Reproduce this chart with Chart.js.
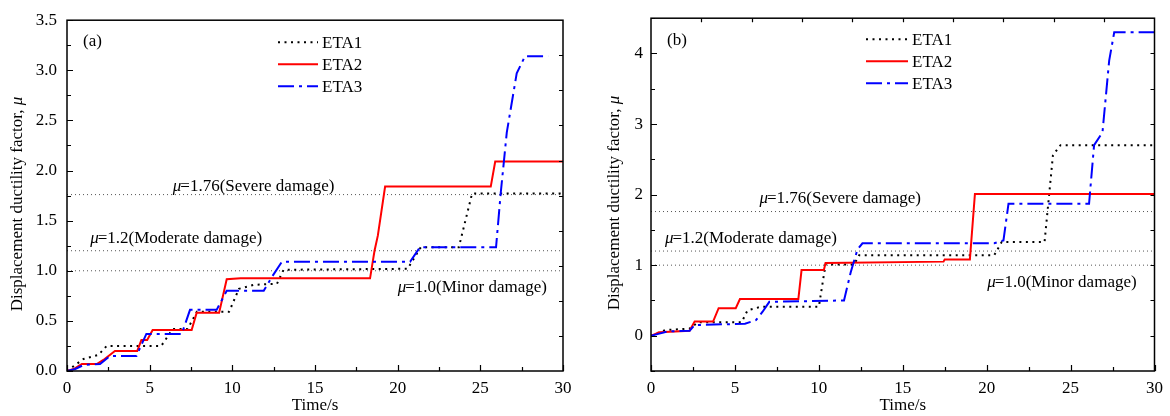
<!DOCTYPE html>
<html>
<head>
<meta charset="utf-8">
<script src="https://cdn.jsdelivr.net/npm/chart.js@4.4.1/dist/chart.umd.min.js"></script>
<style>
  html, body { margin: 0; padding: 0; background: #fff; }
  #wrap { position: relative; width: 1170px; height: 416px; }
  .panel { position: absolute; top: 0; width: 585px; height: 416px; }
</style>
</head>
<body>
<div id="wrap">
  <div class="panel" style="left:0"><canvas id="chartA"></canvas></div>
  <div class="panel" style="left:585px"><canvas id="chartB"></canvas></div>
</div>
<script>
// ---- data ----
const seriesNames = ['ETA1', 'ETA2', 'ETA3'];

// panel (a)
const a1Time = [0, 0.5, 1.0, 1.9, 2.4, 4.3, 5.7, 6.4, 7.3, 7.85, 9.8, 10.4, 11.3, 12.7, 13.1, 20.6, 21.4, 23.7, 24.5, 30];
const a1Mu   = [0, 0.06, 0.12, 0.16, 0.25, 0.25, 0.25, 0.42, 0.42, 0.59, 0.59, 0.82, 0.86, 0.87, 1.01, 1.02, 1.235, 1.235, 1.77, 1.77];
const a2Time = [0, 0.4, 0.9, 1.8, 2.2, 2.9, 4.25, 4.5, 4.85, 5.18, 7.54, 7.84, 9.2, 9.66, 10.5, 18.33, 18.6, 18.8, 19.24, 25.63, 25.9, 30];
const a2Mu   = [0, 0.02, 0.07, 0.07, 0.11, 0.2, 0.2, 0.31, 0.31, 0.41, 0.41, 0.58, 0.58, 0.915, 0.925, 0.925, 1.2, 1.35, 1.84, 1.84, 2.09, 2.09];
const a3Time = [0, 0.5, 1.0, 2.0, 2.6, 4.2, 4.8, 6.94, 7.44, 9.05, 9.66, 11.9, 12.4, 13.0, 20.75, 21.35, 25.95, 26.23, 26.6, 27.2, 27.7, 29.1];
const a3Mu   = [0, 0.02, 0.06, 0.07, 0.15, 0.15, 0.37, 0.37, 0.61, 0.61, 0.8, 0.8, 0.94, 1.09, 1.09, 1.235, 1.235, 1.77, 2.38, 2.97, 3.14, 3.14];

// panel (b)
const b1Time = [0, 0.4, 0.83, 2.3, 2.8, 5.4, 5.75, 6.55, 10.0, 10.4, 12.1, 12.4, 20.45, 20.9, 23.45, 23.95, 24.4, 30];
const b1Mu   = [0, 0.04, 0.08, 0.1, 0.19, 0.19, 0.36, 0.41, 0.41, 1.01, 1.01, 1.14, 1.14, 1.33, 1.33, 2.56, 2.7, 2.7];
const b2Time = [0, 0.5, 2.3, 2.6, 3.7, 4.03, 5.05, 5.3, 8.78, 8.97, 10.3, 10.4, 17.43, 17.5, 19.0, 19.3, 30];
const b2Mu   = [0, 0.05, 0.07, 0.2, 0.2, 0.39, 0.39, 0.52, 0.52, 0.93, 0.93, 1.03, 1.05, 1.08, 1.08, 2.01, 2.01];
const b3Time = [0, 0.5, 1.0, 2.3, 2.6, 5.6, 6.25, 6.65, 7.05, 11.5, 11.9, 12.3, 12.6, 20.45, 21.0, 21.3, 26.1, 26.4, 26.9, 27.3, 27.6, 30];
const b3Mu   = [0, 0.03, 0.06, 0.07, 0.15, 0.17, 0.22, 0.34, 0.48, 0.5, 0.9, 1.22, 1.31, 1.31, 1.35, 1.87, 1.87, 2.7, 2.88, 3.9, 4.3, 4.3];

// damage thresholds
const thresholds = [1.0, 1.2, 1.76];
const thresholdNames = ['Minor damage', 'Moderate damage', 'Severe damage'];

// axis ticks
const timeTicks = [0, 5, 10, 15, 20, 25, 30];
const muTicksA = [0, 0.5, 1.0, 1.5, 2.0, 2.5, 3.0, 3.5];
const muTicksB = [0, 1, 2, 3, 4];

const FONT = '"Liberation Serif", "Times New Roman", serif';
const styles = [
  { color: '#000000', width: 2, dash: [2, 4.5] },
  { color: '#ff0000', width: 2, dash: [] },
  { color: '#0000ff', width: 2, dash: [16, 5, 3, 5] }
];

const toPoints = (t, m) => t.map((v, i) => ({ x: v, y: m[i] }));

function buildDatasets(series) {
  const ds = series.map((s, i) => ({
    label: seriesNames[i],
    data: toPoints(s[0], s[1]),
    borderColor: styles[i].color,
    borderWidth: styles[i].width,
    borderDash: styles[i].dash,
    pointRadius: 0,
    tension: 0,
    fill: false,
    order: 3 - i
  }));
  thresholds.forEach(v => {
    ds.push({
      label: 'thr' + v,
      data: [{ x: 0, y: v }, { x: 30, y: v }],
      borderColor: '#555',
      borderWidth: 1,
      borderDash: [1, 3],
      pointRadius: 0,
      order: 10
    });
  });
  return ds;
}

// frame, inward ticks, y title, legend, annotations, panel tag
const decorPlugin = {
  id: 'decor',
  afterDraw(chart, args, o) {
    const { ctx, chartArea: a, scales: { x, y } } = chart;
    const yTicks = o.yTicks;
    ctx.save();
    ctx.strokeStyle = '#000';
    ctx.lineWidth = 1.5;
    ctx.strokeRect(a.left, a.top, a.right - a.left, a.bottom - a.top);

    ctx.lineWidth = 1.2;
    ctx.beginPath();
    // left + bottom, major and minor
    const yStep = yTicks[1] - yTicks[0];
    for (let v = y.min; v <= y.max + 1e-9; v += yStep / 2) {
      const major = yTicks.some(t => Math.abs(t - v) < 1e-6);
      const py = Math.round(y.getPixelForValue(v)) + 0.5;
      ctx.moveTo(a.left, py); ctx.lineTo(a.left + (major ? 6 : 4), py);
    }
    for (let v = x.min; v <= x.max + 1e-9; v += 2.5) {
      const major = timeTicks.includes(v);
      const px = Math.round(x.getPixelForValue(v)) + 0.5;
      ctx.moveTo(px, a.bottom); ctx.lineTo(px, a.bottom - (major ? 6 : 4));
    }
    // right side ticks (10 divisions)
    for (let i = 1; i < 10; i++) {
      const py = Math.round(y.getPixelForValue(y.min + i * (y.max - y.min) / 10)) + 0.5;
      ctx.moveTo(a.right, py); ctx.lineTo(a.right - 4, py);
    }
    if (o.topTicks) {
      for (let i = 1; i < 10; i++) {
        const px = Math.round(x.getPixelForValue(x.min + i * (x.max - x.min) / 10)) + 0.5;
        ctx.moveTo(px, a.top); ctx.lineTo(px, a.top + 4);
      }
    }
    ctx.stroke();

    ctx.fillStyle = '#000';
    ctx.textBaseline = 'middle';

    // y axis title with italic mu
    const t1 = 'Displacement ductility factor, ';
    ctx.font = '17px ' + FONT;
    const w1 = ctx.measureText(t1).width;
    ctx.font = 'italic 17px ' + FONT;
    const w2 = ctx.measureText('\u03bc').width;
    ctx.save();
    ctx.translate(o.yTitleX, o.yTitleY);
    ctx.rotate(-Math.PI / 2);
    ctx.textAlign = 'left';
    ctx.font = '17px ' + FONT;
    ctx.fillText(t1, -(w1 + w2) / 2, 0);
    ctx.font = 'italic 17px ' + FONT;
    ctx.fillText('\u03bc', -(w1 + w2) / 2 + w1, 0);
    ctx.restore();

    // panel tag
    ctx.textAlign = 'left';
    ctx.font = '17px ' + FONT;
    ctx.fillText(o.tag, a.left + 16, a.top + o.tagDy);

    // legend
    seriesNames.forEach((name, i) => {
      const ly = a.top + o.legendDy + i * 22;
      const lx = a.left + o.legendDx;
      ctx.save();
      ctx.strokeStyle = styles[i].color;
      ctx.lineWidth = styles[i].width;
      ctx.setLineDash(styles[i].dash);
      ctx.beginPath();
      ctx.moveTo(lx, ly); ctx.lineTo(lx + o.legendLen, ly);
      ctx.stroke();
      ctx.restore();
      ctx.font = '17px ' + FONT;
      ctx.fillText(name, lx + o.legendLen + 4, ly + 1);
    });

    // threshold annotations
    ctx.textBaseline = 'alphabetic';
    const notes = o.notes;
    for (let i = 0; i < thresholds.length; i++) {
      const px = x.getPixelForValue(notes[i][0]);
      const py = y.getPixelForValue(notes[i][1]);
      ctx.font = 'italic 17px ' + FONT;
      ctx.fillText('\u03bc', px, py);
      const wm = ctx.measureText('\u03bc').width;
      ctx.font = '17px ' + FONT;
      ctx.fillText('=' + thresholds[i].toFixed(i === 2 ? 2 : 1) + '(' + thresholdNames[i] + ')', px + wm - 1, py);
    }
    ctx.restore();
  }
};

function makeChart(id, series, yMin, yMax, yTicks, yFmt, pad, yWidth, labelPad, decor) {
  return new Chart(document.getElementById(id), {
    type: 'line',
    data: { datasets: buildDatasets(series) },
    plugins: [decorPlugin],
    options: {
      responsive: true,
      maintainAspectRatio: false,
      animation: false,
      devicePixelRatio: 1,
      layout: { padding: pad },
      plugins: { legend: { display: false }, tooltip: { enabled: false }, decor: decor },
      scales: {
        x: {
          type: 'linear', min: 0, max: 30,
          grid: { display: false, drawTicks: false },
          border: { display: false },
          afterBuildTicks: s => { s.ticks = timeTicks.map(v => ({ value: v })); },
          afterFit: s => { s.height = 45; },
          ticks: { color: '#000', padding: 7, maxRotation: 0, font: { family: FONT, size: 17 } },
          title: { display: true, text: 'Time/s', color: '#000', padding: { top: 0, bottom: 0 }, font: { family: FONT, size: 17 } }
        },
        y: {
          type: 'linear', min: yMin, max: yMax,
          grid: { display: false, drawTicks: false },
          border: { display: false },
          afterBuildTicks: s => { s.ticks = yTicks.map(v => ({ value: v })); },
          afterFit: s => { s.width = yWidth; },
          ticks: { color: '#000', padding: labelPad, font: { family: FONT, size: 17 }, callback: yFmt }
        }
      }
    }
  });
}

makeChart('chartA',
  [[a1Time, a1Mu], [a2Time, a2Mu], [a3Time, a3Mu]],
  0, 3.5, muTicksA, v => v.toFixed(1),
  { top: 16, right: 22, left: 0, bottom: 0 }, 67, 10,
  { yTicks: muTicksA, tag: '(a)', tagDy: 21, yTitleX: 18, yTitleY: 204, topTicks: false,
    legendDx: 211, legendDy: 22, legendLen: 40,
    notes: [[20.0, 0.79], [1.4, 1.277], [6.4, 1.80]] });

makeChart('chartB',
  [[b1Time, b1Mu], [b2Time, b2Mu], [b3Time, b3Mu]],
  -0.5, 4.5, muTicksB, v => String(v),
  { top: 11, right: 13, left: 0, bottom: 0 }, 66, 8,
  { yTicks: muTicksB, tag: '(b)', tagDy: 22, yTitleX: 30, yTitleY: 203, topTicks: true,
    legendDx: 215, legendDy: 21, legendLen: 42,
    notes: [[20.04, 0.69], [0.83, 1.317], [6.46, 1.886]] });
</script>
</body>
</html>
